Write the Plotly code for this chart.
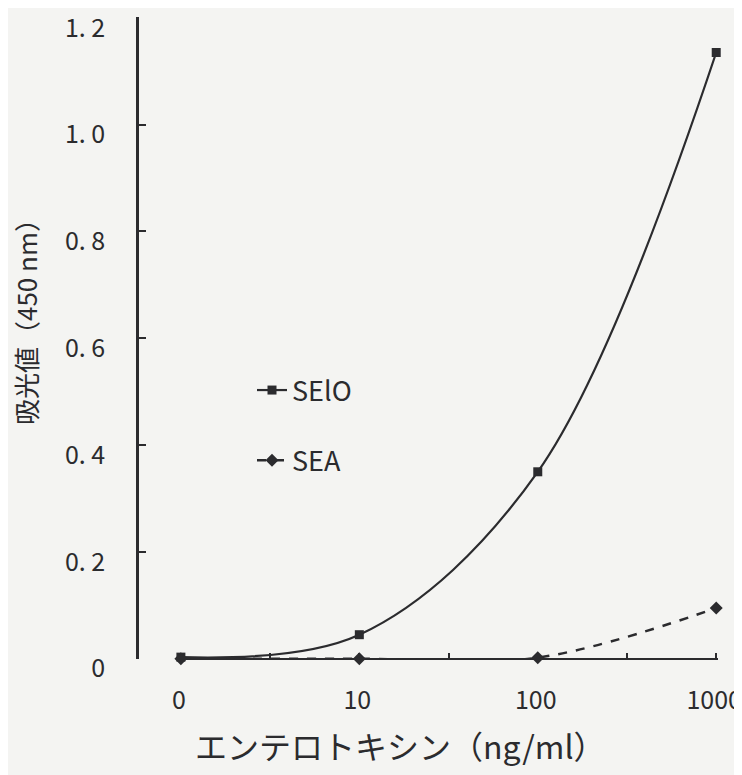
import plotly.graph_objects as go

categories = ["0", "10", "100", "1000"]
sei0 = [0.003, 0.045, 0.35, 1.135]
sea = [0.0, 0.0, 0.002, 0.095]
y_ticks = [0, 0.2, 0.4, 0.6, 0.8, 1.0, 1.2]
y_ticktext = ["0", "0. 2", "0. 4", "0. 6", "0. 8", "1. 0", "1. 2"]

xi = list(range(len(categories)))
INK = "#2b2b2e"
FONT = "Noto Sans CJK JP"

fig = go.Figure()
fig.add_trace(go.Scatter(
    x=xi, y=sei0, name="SElO", mode="lines+markers",
    line=dict(color=INK, width=2.2, shape="spline", smoothing=1.0),
    marker=dict(symbol="square", size=9, color=INK),
    cliponaxis=False, legendgroup="a"))
fig.add_trace(go.Scatter(
    x=xi, y=sea, name="SEA", mode="lines+markers",
    line=dict(color=INK, width=2.5, dash="dash", shape="spline", smoothing=1.0),
    marker=dict(symbol="diamond", size=10, color=INK),
    cliponaxis=False, legendgroup="b"))

OFF = 8  # page body margin (div starts at 8,8)
W, H = 742 - OFF, 775 - OFF
# margins in div coordinates, from target page pixels
ml = 137 - OFF
mt = 17 - OFF
mr = (OFF + W) - 718
mb = (OFF + H) - 659
pw = W - ml - mr
ph = H - mt - mb


def px_x(p):
    return (p - OFF - ml) / pw


def px_y(p):
    return (H - mb - (p - OFF)) / ph


fig.update_layout(
    width=W, height=H,
    margin=dict(l=ml, r=mr, t=mt, b=mb, autoexpand=False),
    paper_bgcolor="#f4f4f2", plot_bgcolor="#f4f4f2",
    font=dict(family=FONT, color=INK, size=22),
    showlegend=True,
    legend=dict(x=px_x(252), y=px_y(366), xanchor="left", yanchor="top",
                bgcolor="rgba(0,0,0,0)", font=dict(size=27, family=FONT),
                traceorder="grouped", tracegroupgap=32),
    xaxis=dict(
        domain=[px_x(180), 1], range=[-0.005, 3.01],
        tickvals=xi, ticktext=categories, automargin=False,
        showline=False, showgrid=False, zeroline=False,
        ticks="inside", ticklen=6, tickwidth=2, tickcolor=INK,
        minor=dict(ticks="inside", tick0=0, dtick=0.5, ticklen=6, tickwidth=2, tickcolor=INK, showgrid=False),
        tickfont=dict(size=25, family=FONT), ticklabelstandoff=24,
        ticklabelshift=-2, ticklabeloverflow="allow",
    ),
    yaxis=dict(
        range=[-0.0005, 1.2015], anchor="free", position=0, automargin=False,
        tickvals=y_ticks, ticktext=y_ticktext,
        showline=True, linecolor=INK, linewidth=2.5,
        showgrid=False, zeroline=True, zerolinecolor=INK, zerolinewidth=2.2,
        ticks="inside", ticklen=7, tickwidth=2, tickcolor=INK,
        tickfont=dict(size=25, family=FONT), ticklabelstandoff=26,
        ticklabelshift=10, ticklabeloverflow="allow",
    ),
    annotations=[
        dict(text="吸光値（450 nm）", textangle=-90, xref="paper", yref="paper",
             x=px_x(25), y=px_y(316), xanchor="center", yanchor="middle",
             showarrow=False, font=dict(size=26, family=FONT, color=INK)),
        dict(text="エンテロトキシン（ng/ml）", xref="paper", yref="paper",
             x=px_x(400), y=px_y(745), xanchor="center", yanchor="middle",
             showarrow=False, font=dict(size=32, family=FONT, color=INK)),
    ],
)

fig.write_html("out.html")
